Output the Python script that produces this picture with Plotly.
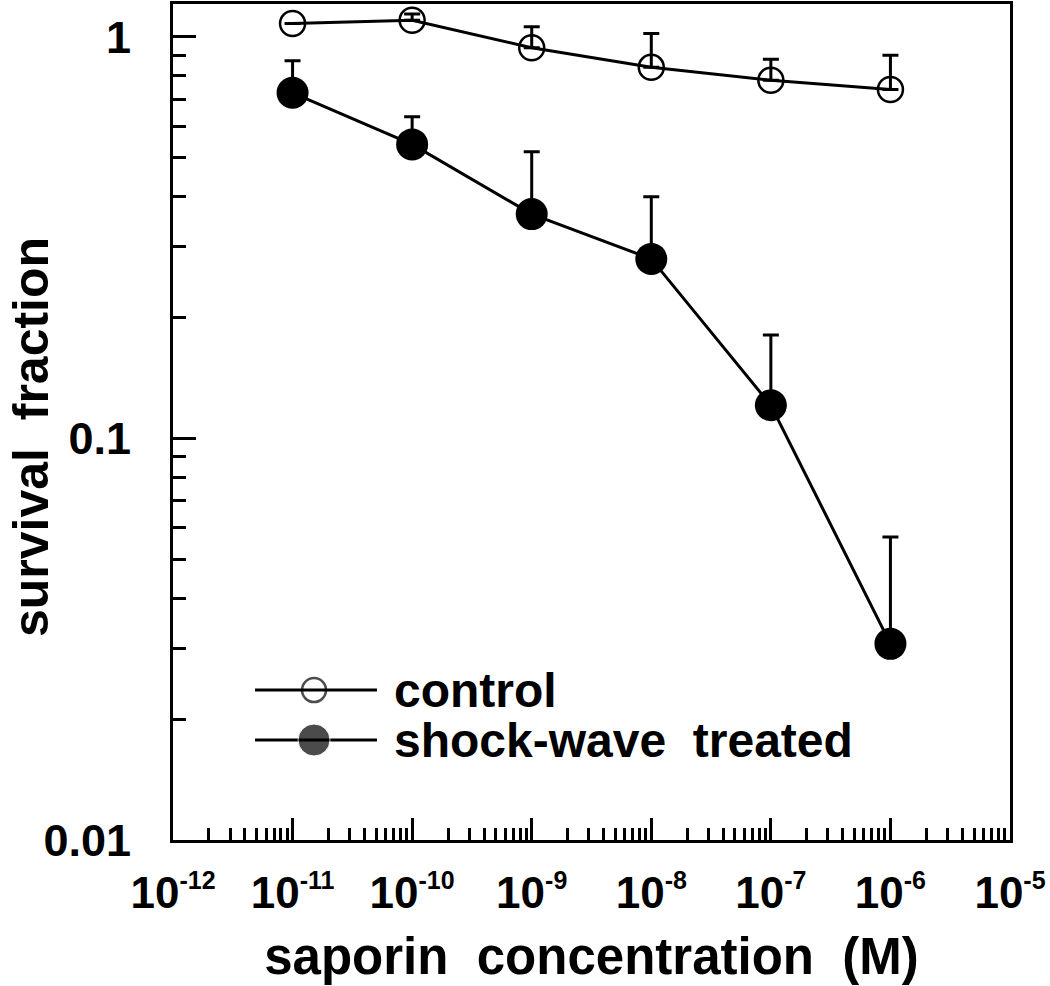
import plotly.graph_objects as go

# ---- data ----
conc = [1e-11, 1e-10, 1e-9, 1e-8, 1e-7, 1e-6]
control = [1.08, 1.10, 0.94, 0.84, 0.78, 0.74]
control_err = [0.0, 0.04, 0.12, 0.18, 0.10, 0.16]
treated = [0.726, 0.54, 0.362, 0.280, 0.121, 0.0308]
treated_err = [0.146, 0.093, 0.156, 0.12, 0.06, 0.026]

x_major = [1e-12, 1e-11, 1e-10, 1e-9, 1e-8, 1e-7, 1e-6, 1e-5]
x_exponents = ["-12", "-11", "-10", "-9", "-8", "-7", "-6", "-5"]
y_major = [0.01, 0.1, 1]
y_labels = ["0.01", "0.1", "1"]

legend_names = ["control", "shock-wave\u00a0\u00a0treated"]
x_title = "saporin\u00a0\u00a0concentration\u00a0\u00a0(M)"
y_title = "survival\u00a0\u00a0fraction"

x_labels = ["10<sup><span style='font-size:25px'>%s</span></sup>" % e for e in x_exponents]
x_minor = [m * d for d in x_major[:-1] for m in range(2, 10)]
y_minor = [m * d for d in y_major[:-1] for m in range(2, 10)]

FONT = "Liberation Sans, Arial, sans-serif"
LW = 3

fig = go.Figure()

fig.add_trace(go.Scatter(
    x=conc, y=control, mode="lines+markers",
    line=dict(color="black", width=LW),
    marker=dict(symbol="circle-open", size=25, color="black", line=dict(width=2.5)),
    error_y=dict(type="data", array=control_err, arrayminus=[0] * len(conc),
                 color="black", thickness=3, width=8),
    showlegend=False,
))
fig.add_trace(go.Scatter(
    x=conc, y=treated, mode="lines+markers",
    line=dict(color="black", width=LW),
    marker=dict(symbol="circle", size=32, color="black"),
    error_y=dict(type="data", array=treated_err, arrayminus=[0] * len(conc),
                 color="black", thickness=3, width=8),
    showlegend=False,
))

# ---- manual legend on an overlay axis (paper-like 0..1) ----
leg_x0, leg_xm, leg_x1 = 0.098, 0.1685, 0.2437
leg_y = [0.1794, 0.1196]
fig.add_trace(go.Scatter(
    x=[leg_x0, leg_xm, leg_x1], y=[leg_y[0]] * 3, xaxis="x2", yaxis="y2",
    mode="lines+markers", line=dict(color="black", width=LW),
    marker=dict(symbol="circle-open", size=[0, 24, 0], color="black", line=dict(width=2.5)),
    showlegend=False, hoverinfo="skip",
))
fig.add_trace(go.Scatter(
    x=[leg_x0, leg_xm, leg_x1], y=[leg_y[1]] * 3, xaxis="x2", yaxis="y2",
    mode="lines+markers", line=dict(color="black", width=LW),
    marker=dict(symbol="circle", size=[0, 32, 0], color="black"),
    showlegend=False, hoverinfo="skip",
))
for name, yy in zip(legend_names, leg_y):
    fig.add_annotation(x=0.2617, y=yy, xref="x2", yref="y2", text=name,
                       showarrow=False, xanchor="left", yanchor="middle",
                       font=dict(family=FONT, size=48, color="black", weight="bold"))

# y-axis title as annotation (placed slightly below the plot centre as in the reference)
fig.add_annotation(x=0, y=0.482, xref="paper", yref="paper", text=y_title,
                   textangle=-90, showarrow=False, xanchor="right", yanchor="middle",
                   xshift=-112,
                   font=dict(family=FONT, size=50, color="black", weight="bold"))

fig.update_layout(
    width=1050, height=986,
    margin=dict(l=173, r=40, t=4, b=146),
    paper_bgcolor="white", plot_bgcolor="white",
    font=dict(family=FONT, color="black"),
    xaxis=dict(
        type="log", range=[-12, -5], automargin=False,
        tickmode="array", tickvals=x_major, ticktext=x_labels,
        ticks="inside", ticklen=22, tickwidth=2.5, tickcolor="black",
        minor=dict(tickmode="array", tickvals=x_minor, ticks="inside",
                   ticklen=12, tickwidth=2.5, tickcolor="black", showgrid=False),
        showline=True, linewidth=LW, linecolor="black", mirror=True,
        showgrid=False, zeroline=False,
        tickfont=dict(family=FONT, size=44, weight="bold"),
        ticklabelstandoff=12,
        title=dict(text=x_title, standoff=23,
                   font=dict(family=FONT, size=51, weight="bold")),
    ),
    yaxis=dict(
        type="log", range=[-2, 0.082], automargin=False,
        tickmode="array", tickvals=y_major, ticktext=y_labels,
        ticks="inside", ticklen=23, tickwidth=2.5, tickcolor="black",
        minor=dict(tickmode="array", tickvals=y_minor, ticks="inside",
                   ticklen=13, tickwidth=2.5, tickcolor="black", showgrid=False),
        showline=True, linewidth=LW, linecolor="black", mirror=True,
        showgrid=False, zeroline=False,
        tickfont=dict(family=FONT, size=45, weight="bold"),
        ticklabelstandoff=30,
    ),
    xaxis2=dict(overlaying="x", range=[0, 1], visible=False, fixedrange=True),
    yaxis2=dict(overlaying="y", range=[0, 1], visible=False, fixedrange=True),
)

fig.write_html("out.html", post_script="document.body.style.margin='0';",
               config={"displayModeBar": False})
